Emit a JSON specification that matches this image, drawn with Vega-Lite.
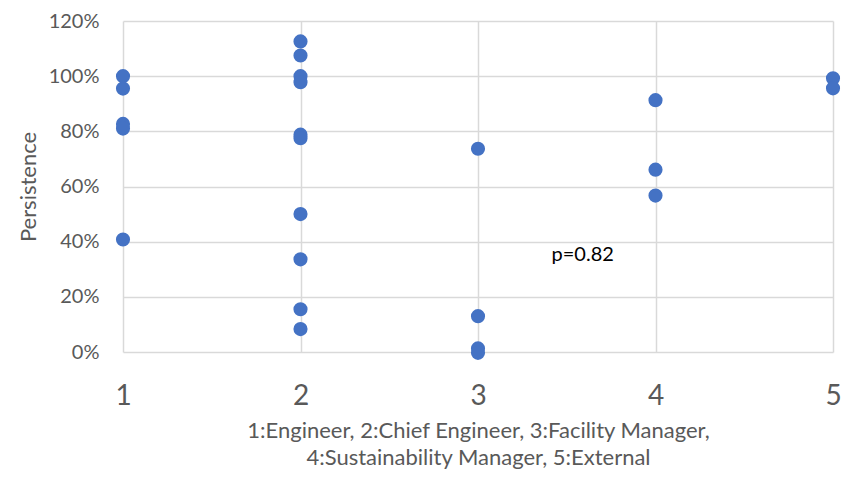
{
  "$schema": "https://vega.github.io/schema/vega-lite/v6.json",
  "autosize": "none",
  "width": 710,
  "height": 331,
  "padding": {"left": 123, "top": 21, "right": 12, "bottom": 129},
  "background": "white",
  "config": {
    "font": "Lato",
    "view": {"stroke": null}
  },
  "layer": [
    {
      "data": {
        "values": [
          {"role": 1, "persistence": 1.0},
          {"role": 1, "persistence": 0.955},
          {"role": 1, "persistence": 0.827},
          {"role": 1, "persistence": 0.81},
          {"role": 1, "persistence": 0.408},
          {"role": 2, "persistence": 1.126},
          {"role": 2, "persistence": 1.075},
          {"role": 2, "persistence": 1.0},
          {"role": 2, "persistence": 0.978},
          {"role": 2, "persistence": 0.788},
          {"role": 2, "persistence": 0.775},
          {"role": 2, "persistence": 0.5},
          {"role": 2, "persistence": 0.336},
          {"role": 2, "persistence": 0.155},
          {"role": 2, "persistence": 0.083},
          {"role": 3, "persistence": 0.737},
          {"role": 3, "persistence": 0.13},
          {"role": 3, "persistence": 0.013},
          {"role": 3, "persistence": -0.003},
          {"role": 4, "persistence": 0.913},
          {"role": 4, "persistence": 0.661},
          {"role": 4, "persistence": 0.567},
          {"role": 5, "persistence": 0.992},
          {"role": 5, "persistence": 0.956}
        ]
      },
      "mark": {"type": "point", "shape": "circle", "filled": true, "size": 200, "opacity": 1, "color": "#4472C4"},
      "encoding": {
        "x": {
          "field": "role",
          "type": "quantitative",
          "scale": {"domain": [1, 5], "nice": false, "zero": false},
          "axis": {
            "values": [1, 2, 3, 4, 5],
            "format": "d",
            "grid": true,
            "gridColor": "#d9d9d9",
            "gridWidth": 1.5,
            "domain": false,
            "ticks": false,
            "labelFlush": false,
            "labelBound": false,
            "labelOverlap": false,
            "labelFontSize": 28,
            "labelColor": "#595959",
            "labelPadding": 30,
            "labelFont": "Lato",
            "title": ["1:Engineer, 2:Chief Engineer, 3:Facility Manager,", "4:Sustainability Manager, 5:External"],
            "titleFont": "Lato",
            "titleFontSize": 22,
            "titleFontWeight": "normal",
            "titleColor": "#595959",
            "titleLineHeight": 27,
            "titlePadding": 10
          }
        },
        "y": {
          "field": "persistence",
          "type": "quantitative",
          "scale": {"domain": [0, 1.2], "nice": false, "zero": true},
          "axis": {
            "values": [0, 0.2, 0.4, 0.6, 0.8, 1.0, 1.2],
            "format": ".0%",
            "grid": true,
            "gridColor": "#d9d9d9",
            "gridWidth": 1.5,
            "domain": false,
            "ticks": false,
            "labelFontSize": 20,
            "labelColor": "#595959",
            "labelPadding": 24,
            "labelFont": "Lato",
            "title": "Persistence",
            "titleFont": "Lato",
            "titleFontSize": 22,
            "titleFontWeight": "normal",
            "titleColor": "#595959",
            "titlePadding": 8
          }
        }
      }
    },
    {
      "data": {"values": [{"role": 3.59, "persistence": 0.352, "label": "p=0.82"}]},
      "mark": {"type": "text", "fontSize": 20, "color": "#000000", "font": "Lato", "align": "center", "baseline": "middle"},
      "encoding": {
        "x": {"field": "role", "type": "quantitative"},
        "y": {"field": "persistence", "type": "quantitative"},
        "text": {"field": "label", "type": "nominal"}
      }
    }
  ]
}
